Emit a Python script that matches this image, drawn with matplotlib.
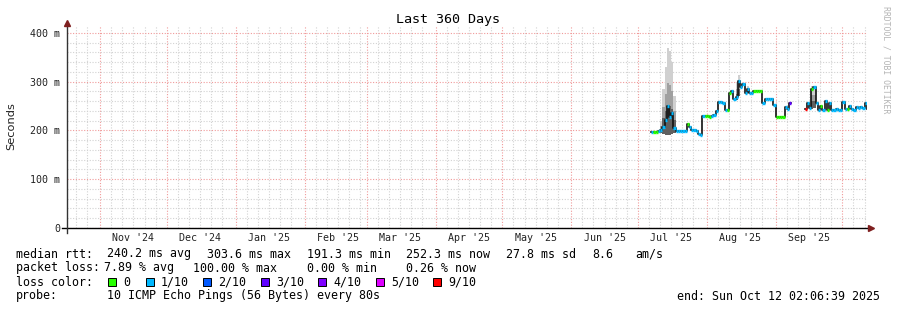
#!/usr/bin/env python
import numpy as np
import pandas as pd
import matplotlib
matplotlib.use('Agg')
import matplotlib.pyplot as plt
from matplotlib.patches import Rectangle

# time range of the graph
start = pd.Timestamp('2024-10-17 02:06:39')
end = pd.Timestamp('2025-10-12 02:06:39')

# daily median rtt (ms), Jul 7 .. Oct 12 2025, NaN = no data
days = pd.date_range('2025-07-07', '2025-10-12', freq='D')
jul = [197, 197, 196, 198, 200, 208, 222, 250, 228, 236, 205, 199, 199,
       198, 198, 198, 214, 208, 200, 200, 199, 193, 191, 230, 229]
aug = [229, 228, 229, 232, 240, 259, 259, 257, 242, 241, 277, 280, 264,
       268, 302, 290, 295, 276, 284, 276, 276, 280, 280, 281, 280, 256,
       264, 265, 264, 264, 252]
sep = [227, 227, 227, 228, 249, 244, 256, np.nan, np.nan, np.nan, np.nan,
       np.nan, np.nan, 243, 256, 245, 285, 290, 256, 242, 250, 242, 261,
       242, 256, 242, 242, 243, 242, 242]
oct_ = [259, 243, 243, 250, 243, 242, 248, 246, 248, 246, 256, 244]
median_ms = jul + aug + sep + oct_

# loss level per day (index into loss_colors)
loss_jul = [1, 0, 0, 1, 1, 1, 1, 1, 1, 1, 1, 1, 1, 1, 1, 1, 0, 1, 1, 1, 1, 1, 1, 1, 0]
loss_aug = [0, 0, 1, 1, 1, 1, 1, 1, 1, 0, 0, 1, 1, 1, 1, 1, 1, 1, 1, 1, 1,
            0, 0, 0, 0, 1, 1, 1, 1, 1, 1]
loss_sep = [0, 0, 0, 0, 1, 1, 3, 0, 0, 0, 0, 0, 0, 6, 1, 1, 0, 1, 1, 1, 0,
            1, 1, 0, 1, 1, 1, 1, 1, 1]
loss_oct = [1, 1, 0, 1, 1, 1, 1, 1, 1, 1, 1, 0]
loss_level = loss_jul + loss_aug + loss_sep + loss_oct

# smoke (ping spread) on the noisy days
smoke_days = pd.to_datetime(['2025-07-11', '2025-07-12', '2025-07-13', '2025-07-14',
                             '2025-07-15', '2025-07-16', '2025-07-17', '2025-08-14',
                             '2025-08-15', '2025-08-19', '2025-09-17', '2025-09-18'])
smoke_lo = [195, 192, 190, 190, 190, 192, 195, 262, 270, 276, 243, 245]
smoke_hi = [220, 285, 330, 369, 362, 341, 270, 300, 314, 292, 291, 290]

loss_colors = ['#26ff00', '#00b8ff', '#0059ff', '#5e00ff', '#7e00ff', '#dd00ff', '#ff0000']
loss_labels = ['0', '1/10', '2/10', '3/10', '4/10', '5/10', '9/10']

month_starts = pd.date_range('2024-11-01', '2025-10-01', freq='MS')
label_days = pd.to_datetime(['%d-%02d-16' % (d.year, d.month) for d in month_starts[:-1]])
month_labels = ["Nov '24", "Dec '24", "Jan '25", "Feb '25", "Mar '25", "Apr '25",
                "May '25", "Jun '25", "Jul '25", "Aug '25", "Sep '25"]
minor_days = [pd.Timestamp(y, m, d) for y, m in [(2024, 10), (2024, 11), (2024, 12)] +
              [(2025, k) for k in range(1, 11)] for d in (6, 11, 16, 21, 26)]
minor_days = [d for d in minor_days if start < d < end]

MONO = 'DejaVu Sans Mono'
LEG = 8.35
W, H = 897, 310


def fx(x):
    return x / W


def fy(y):
    return 1 - y / H


fig = plt.figure(figsize=(W / 100, H / 100), dpi=100)
fig.patch.set_facecolor('white')
ax = fig.add_axes([fx(67), fy(228), 800 / W, 202 / H])
ax.set_xlim(start, end)
ax.set_ylim(0, 414)

# grid
ax.set_xticks(month_starts)
ax.set_xticks(minor_days, minor=True)
ax.set_yticks([0, 100, 200, 300, 400])
ax.set_yticks(np.arange(20, 414, 20), minor=True)
ax.grid(which='minor', color='#d2d2d2', ls=(0, (1, 1.5)), lw=0.8)
ax.grid(which='major', color='#f09a9a', ls=(0, (1, 1.5)), lw=0.8)
ax.set_axisbelow(True)
ax.tick_params(which='both', length=0)
ax.set_xticklabels([])
ax.set_yticklabels(['0', '100 m', '200 m', '300 m', '400 m'],
                   family=MONO, fontsize=7.2, color='#222222')
ax.tick_params(axis='y', pad=5)
for s in ax.spines.values():
    s.set_visible(False)

# smoke
one_day = pd.Timedelta(days=1)
for d, lo, hi in zip(smoke_days, smoke_lo, smoke_hi):
    for frac, col in [(1.0, '#d0d0d0'), (0.6, '#a0a0a0'), (0.35, '#606060')]:
        ax.bar(d, (hi - lo) * frac, bottom=lo, width=one_day, align='edge',
               color=col, lw=0, zorder=2)

# median line
xs = list(days) + [end]
ys = median_ms + [median_ms[-1]]
ax.plot(xs, ys, drawstyle='steps-post', color='#111111', lw=1.2, zorder=3)
for d, v, lv in zip(days, median_ms, loss_level):
    if np.isnan(v):
        continue
    ax.hlines(v, d, min(d + one_day, end), colors=loss_colors[lv], lw=2.4, zorder=4)

# axes with arrows
ax.plot([-5 / 800, 803 / 800], [0, 0], transform=ax.transAxes, color='black',
        lw=1, clip_on=False, zorder=5)
ax.plot([0, 0], [-5 / 202, 1.0], transform=ax.transAxes, color='#333333',
        lw=1, clip_on=False, zorder=5)
ax.plot([804 / 800], [0], marker='>', ms=4.5, color='#7f1f1f', transform=ax.transAxes,
        clip_on=False, zorder=6)
ax.plot([0], [1.015], marker='^', ms=4.5, color='#7f1f1f', transform=ax.transAxes,
        clip_on=False, zorder=6)

# month labels
for d, lab in zip(label_days, month_labels):
    ax.text(d, -10 / 202, lab, transform=ax.get_xaxis_transform(), ha='center',
            va='center', family=MONO, fontsize=7.2, color='#222222')

# titles
fig.text(fx(448), fy(19), 'Last 360 Days', ha='center', va='center', family=MONO, fontsize=9.6)
fig.text(fx(11), fy(126), 'Seconds', rotation=90, ha='center', va='center',
         family='DejaVu Sans', fontsize=8.2, color='#222222')
fig.text(fx(886), fy(60), 'RRDTOOL / TOBI OETIKER', rotation=270, ha='center', va='center',
         family=MONO, fontsize=5.9, color='#b4b4b4')

# legend
line1 = [('median rtt:', 16), ('240.2 ms avg', 107), ('303.6 ms max', 207),
         ('191.3 ms min', 307), ('252.3 ms now', 406), ('27.8 ms sd', 506),
         ('8.6', 592), ('am/s', 635)]
line2 = [('packet loss:', 16), ('7.89 % avg', 104), ('100.00 % max', 193),
         ('0.00 % min', 307), ('0.26 % now', 406)]
for items, yy in [(line1, 254), (line2, 268)]:
    for txt, xx in items:
        fig.text(fx(xx), fy(yy), txt, ha='left', va='center', family=MONO, fontsize=LEG)

fig.text(fx(16), fy(282), 'loss color:', ha='left', va='center', family=MONO, fontsize=LEG)
box_x = [108, 146, 203, 261, 318, 376, 433]
for bx, col, lab in zip(box_x, loss_colors, loss_labels):
    fig.patches.append(Rectangle((fx(bx), fy(286)), 8 / W, 8 / H, transform=fig.transFigure,
                                 facecolor=col, edgecolor='black', lw=0.7))
    fig.text(fx(bx + 15), fy(282), lab, ha='left', va='center', family=MONO, fontsize=LEG)

fig.text(fx(16), fy(296), 'probe:', ha='left', va='center', family=MONO, fontsize=LEG)
fig.text(fx(107), fy(296), '10 ICMP Echo Pings (56 Bytes) every 80s', ha='left',
         va='center', family=MONO, fontsize=LEG)
fig.text(fx(880), fy(296), 'end: Sun Oct 12 02:06:39 2025', ha='right', va='center',
         family=MONO, fontsize=LEG)

fig.savefig('out.png', dpi=100)
